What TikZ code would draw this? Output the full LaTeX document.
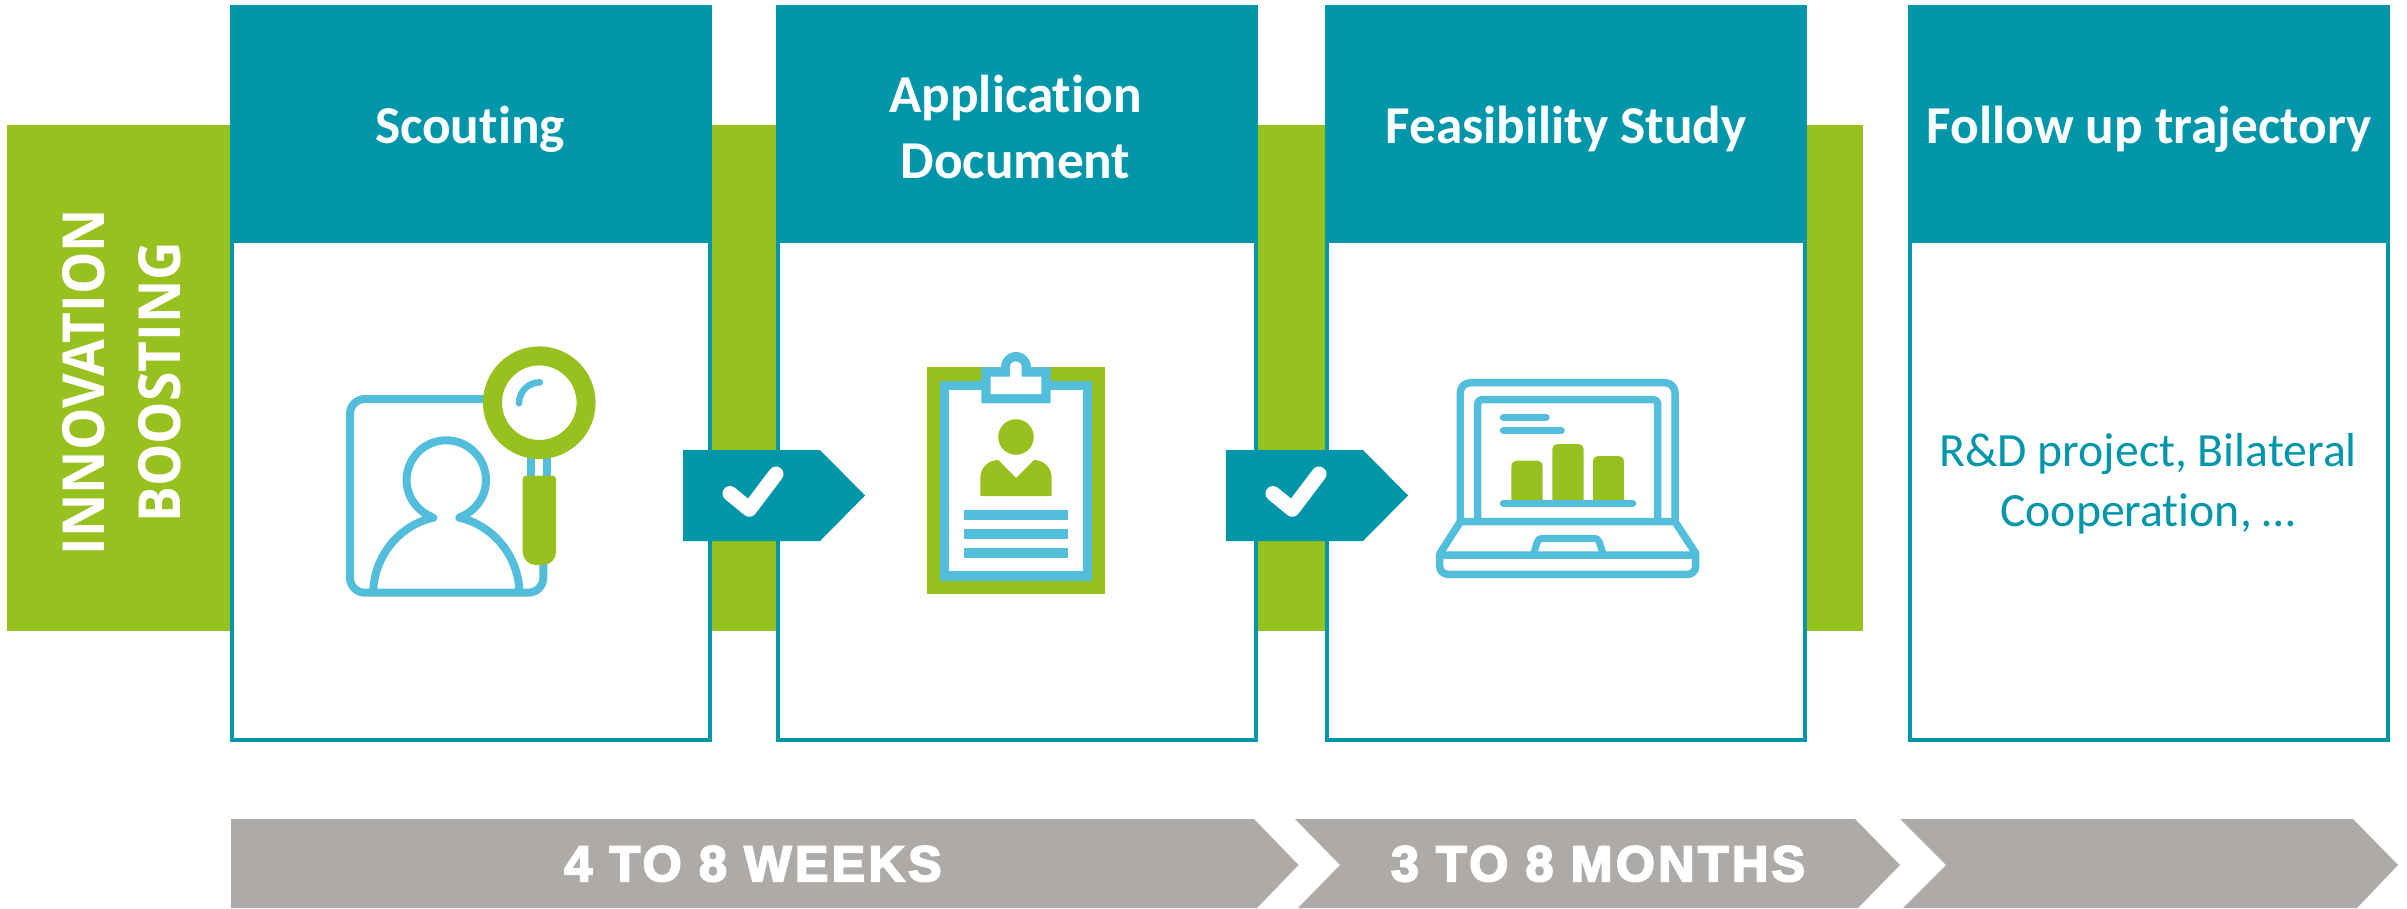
\documentclass[tikz,border=0pt]{standalone}
\usepackage{fontspec}
\setmainfont[Ligatures=NoCommon]{Carlito}
\newfontfamily\innofont[FakeStretch=0.92]{Open Sans}
\newfontfamily\barfont[LetterSpace=7,FakeBold=4]{Liberation Sans Bold}
\definecolor{tealc}{HTML}{0096AA}
\definecolor{greenc}{HTML}{97C11F}
\definecolor{iconc}{HTML}{52BEDB}
\definecolor{grayc}{HTML}{AEAAA8}
\tikzset{
  panel/.style={anchor=north west,inner sep=0pt,outer sep=0pt,fill=white,draw=tealc,line width=4pt,minimum width=478pt,minimum height=733pt},
  header/.style={anchor=north west,inner sep=0pt,outer sep=0pt,fill=tealc,minimum width=482pt,minimum height=238pt},
  title/.style={anchor=base,text=white,align=center,font=\fontsize{53.3}{66}\selectfont\bfseries},
  barlabel/.style={anchor=base,text=white,font=\fontsize{50}{50}\selectfont\barfont},
  iconline/.style={draw=iconc,line width=7.5pt,line cap=round,line join=round},
  flagc/.style={fill=tealc},
  check/.style={draw=white,line width=15pt,line cap=round,line join=round},
}
\begin{document}
\begin{tikzpicture}[x=1pt,y=-1pt]
\useasboundingbox (0,0) rectangle (2407,908);
\clip (0,0) rectangle (2407,908);
% green band
\fill[greenc] (7,125) rectangle (1863,631);
\node[anchor=center,rotate=90,text=white,align=center,font=\fontsize{58}{76}\selectfont\innofont\bfseries] (inno) at (122,382) {INNOVATION\\BOOSTING};
% panels
\foreach \n/\xx in {a/230,b/775.5,c/1324.5,d/1908}{
  \node[panel] (body\n) at (\xx+2,7) {};
  \node[header] (head\n) at (\xx,5) {};
}
\node[title] (t1) at (470,143) {Scouting};
\node[title,anchor=center] (t2) at (1015.5,127) {Application\\Document};
\node[title] (t3) at (1566,143) {Feasibility Study};
\node[title] (t4) at (2149,143) {Follow up trajectory};
\node[anchor=center,align=center,text=tealc,font=\fontsize{47.7}{60}\selectfont] (t5) at (2148,484) {R\&D project, Bilateral\\Cooperation, \ldots};
% flags
\fill[flagc] (683,450) -- (820,450) -- (865,495.5) -- (820,541) -- (683,541) -- cycle;
\draw[check] (730,493.5) -- (749.3,509.3) -- (776,474);
\fill[flagc] (1226,450) -- (1363,450) -- (1408,495.5) -- (1363,541) -- (1226,541) -- cycle;
\draw[check] (1273,493.5) -- (1292.3,509.3) -- (1319,474);
% time chevrons
\fill[grayc] (231,819) -- (1254,819) -- (1298.5,865) -- (1257,908) -- (231,908) -- cycle;
\fill[grayc] (1295,819) -- (1855,819) -- (1900,865) -- (1858,908) -- (1298,908) -- (1340,865) -- cycle;
\fill[grayc] (1900,819) -- (2353,819) -- (2398,865) -- (2357,908) -- (1903,908) -- (1946,865) -- cycle;
\node[barlabel] (w1) at (753,881) {4 TO 8 WEEKS};
\node[barlabel] (w2) at (1598,881) {3 TO 8 MONTHS};
% icon 1
\draw[iconline,line width=8pt] (500,399) -- (365,399) .. controls (356.7,399) and (350,405.7) .. (350,414) -- (350,577.7) .. controls (350,586) and (356.7,592.7) .. (365,592.7) -- (528.3,592.7) .. controls (536.6,592.7) and (543.3,586) .. (543.3,577.7) -- (543.3,560);
\draw[iconline,line width=8pt] (373.3,590) .. controls (375,555) and (400,525) .. (433.3,517.7)
  .. controls (417,511) and (406.6,497) .. (406.6,480)
  .. controls (406.6,458.1) and (424.4,440.3) .. (446.3,440.3)
  .. controls (468.2,440.3) and (486,458.1) .. (486,480)
  .. controls (486,497) and (475.6,511) .. (459.3,517.7)
  .. controls (492.6,525) and (517.6,555) .. (519.3,590);
\fill[iconc] (527.3,445) rectangle (535,480);
\fill[iconc] (543.3,445) rectangle (551,480);
\draw[greenc,line width=19pt,fill=white] (539.3,402.7) circle[radius=46.8pt];
\draw[iconc,line width=6.5pt,line cap=round] (519,403.3) .. controls (519,391.5) and (528.5,382.3) .. (540,382.3);
\fill[greenc] (522.7,479) .. controls (522.7,477.2) and (524.2,475.7) .. (526,475.7) -- (552.7,475.7) .. controls (554.5,475.7) and (556,477.2) .. (556,479) -- (556,552) .. controls (556,559.2) and (550.2,565) .. (543,565) -- (535.7,565) .. controls (528.5,565) and (522.7,559.2) .. (522.7,552) -- cycle;
% icon 2
\fill[greenc] (927,367.3) rectangle (1105,594);
\fill[iconc] (940,380.7) rectangle (1092,580.7);
\fill[white] (949.3,390) rectangle (1082.7,571.3);
\fill[iconc] (981.3,367.3) -- (1001,367.3) .. controls (1001,359) and (1007.7,352) .. (1016,352) .. controls (1024.3,352) and (1031,359) .. (1031,367.3) -- (1050.7,367.3) -- (1050.7,403.3) -- (981.3,403.3) -- cycle;
\fill[white] (990.7,376.7) -- (1010,376.7) -- (1010,367) .. controls (1010,363.8) and (1012.7,361.3) .. (1016,361.3) .. controls (1019,361.3) and (1021.7,363.8) .. (1021.7,367) -- (1021.7,376.7) -- (1041.3,376.7) -- (1041.3,394) -- (990.7,394) -- cycle;
\fill[greenc] (1016,437) circle[radius=17.8pt];
\fill[greenc] (980.3,496) -- (980.3,478) .. controls (980.3,468) and (988,460) .. (998.3,460) -- (1016,478) -- (1034,460) .. controls (1044,460) and (1051.7,468) .. (1051.7,478) -- (1051.7,496) -- cycle;
\fill[iconc] (964,510) rectangle (1068,520);
\fill[iconc] (964,529) rectangle (1068,539);
\fill[iconc] (964,548) rectangle (1068,558);
% icon 3
\draw[iconline] (1460.3,521.7) -- (1460.3,392.7) .. controls (1460.3,387.2) and (1464.8,382.7) .. (1470.3,382.7) -- (1665,382.7) .. controls (1670.5,382.7) and (1675,387.2) .. (1675,392.7) -- (1675,521.7);
\draw[iconline] (1477.7,521.7) -- (1477.7,403.7) .. controls (1477.7,401.5) and (1479.5,399.7) .. (1481.7,399.7) -- (1653.7,399.7) .. controls (1655.9,399.7) and (1657.7,401.5) .. (1657.7,403.7) -- (1657.7,521.7);
\draw[iconline] (1440,553.3) -- (1460.3,521.7) -- (1675,521.7) -- (1695.7,553.3);
\draw[iconline] (1439.7,555) -- (1695.7,555) -- (1695.7,566.3) .. controls (1695.7,570.7) and (1692.1,574.3) .. (1687.7,574.3) -- (1447.7,574.3) .. controls (1443.3,574.3) and (1439.7,570.7) .. (1439.7,566.3) -- cycle;
\draw[iconline,line width=7pt] (1534,553) -- (1537,542.5) .. controls (1537.8,540) and (1539.5,538.3) .. (1542,538.3) -- (1594.5,538.3) .. controls (1597,538.3) and (1598.7,540) .. (1599.5,542.5) -- (1602.7,553);
\draw[iconline] (1503.5,417.7) -- (1546,417.7);
\draw[iconline] (1503.5,430.3) -- (1561,430.3);
\fill[greenc] (1511.3,500) -- (1511.3,465.7) .. controls (1511.3,463) and (1513.5,460.7) .. (1516.3,460.7) -- (1537.7,460.7) .. controls (1540.5,460.7) and (1542.7,463) .. (1542.7,465.7) -- (1542.7,500) -- cycle;
\fill[greenc] (1552.3,500) -- (1552.3,449) .. controls (1552.3,446.2) and (1554.5,444) .. (1557.3,444) -- (1578.7,444) .. controls (1581.5,444) and (1583.7,446.2) .. (1583.7,449) -- (1583.7,500) -- cycle;
\fill[greenc] (1593,500) -- (1593,461) .. controls (1593,458.2) and (1595.2,456) .. (1598,456) -- (1619,456) .. controls (1621.8,456) and (1624,458.2) .. (1624,461) -- (1624,500) -- cycle;
\draw[iconline] (1503.5,503.7) -- (1632.5,503.7);
\end{tikzpicture}
\end{document}
